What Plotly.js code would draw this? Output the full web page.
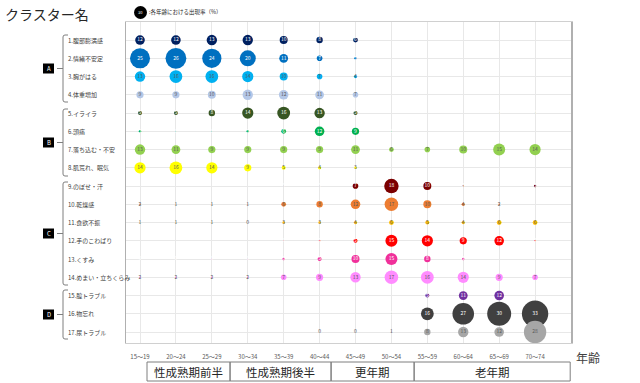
<!DOCTYPE html>
<html><head><meta charset="utf-8">
<script src="https://cdn.plot.ly/plotly-3.0.1.min.js"></script>
<style>html,body{margin:0;padding:0;background:#fff;}#chart{width:640px;height:383px;}</style>
</head><body><div id="chart"></div>
<script>
// ---- data ----
const ages = ["15～19","20～24","25～29","30～34","35～39","40～44","45～49","50～54","55～59","60～64","65～69","70～74"];
const symptoms = ["1.腹部膨満感","2.情緒不安定","3.胸がはる","4.体重増加","5.イライラ","6.頭痛","7.落ち込む・不安","8.肌荒れ、眠気","9.のぼせ・汗","10.乾燥感","11.食欲不振","12.手のこわばり","13.くすみ","14.めまい・立ちくらみ","15.腟トラブル","16.物忘れ","17.尿トラブル"];
const groups = ["A","B","C","D"];
const periods = ["性成熟期前半","性成熟期後半","更年期","老年期"];
const _ = null;
const v01 = [12,12,13,13,10,8,6,_,_,_,_,_];
const v02 = [25,26,24,20,11,7,3,_,_,_,_,_];
const v03 = [13,16,16,14,10,7,4,_,_,_,_,_];
const v04 = [9,9,10,13,12,11,7,_,_,_,_,_];
const v05 = [5,5,8,14,16,13,5,_,_,_,1,1];
const v06 = [3,1,1,3,6,12,9,1,_,_,_,_];
const v07 = [13,11,9,9,9,9,11,6,7,10,15,14];
const v08 = [14,16,14,9,5,4,3,_,_,_,_,_];
const v09 = [_,_,_,_,1,1,7,18,10,2,_,3];
const v10 = [2,1,1,1,6,8,12,17,10,4,2,_];
const v11 = [1,1,1,0,3,3,4,6,5,4,6,6];
const v12 = [_,_,_,_,1,2,5,15,14,9,12,2];
const v13 = [0,0,1,1,3,5,10,15,8,3,_,_];
const v14 = [2,2,2,2,7,9,13,17,16,14,9,7];
const v15 = [_,_,_,_,_,_,_,_,5,11,12,_];
const v16 = [_,_,_,_,_,_,_,1,16,27,30,33];
const v17 = [_,_,_,_,_,0,0,1,8,13,12,28];
const values = [v01,v02,v03,v04,v05,v06,v07,v08,v09,v10,v11,v12,v13,v14,v15,v16,v17];
const legendValue = 30;

// ---- styles ----
const colors = ["#002060","#0070c0","#00b0f0","#b4c7e7","#375623","#00b050","#92d050","#ffff00","#7b0000","#ed7d31","#ffc000","#ff0000","#f0309a","#ff8cff","#7030a0","#404040","#a6a6a6"];
const whiteText = [true,true,false,false,true,true,false,false,true,false,false,true,true,false,true,true,false];
const F = '"Noto Sans CJK JP", "Noto Sans", sans-serif';

const L = 126, R = 571, T = 22, B = 343;
const px = p => (p - L) / (R - L);
const py = p => (B - p) / (B - T);

const traces = values.map((vals, i) => ({
  type: 'scatter', mode: 'markers+text',
  x: ages.map((a, j) => j),
  y: vals.map(() => i + 1),
  marker: { size: vals.map(v => v === null ? 0 : v * 0.8), color: colors[i], line: { width: 0 }, opacity: 1 },
  text: vals.map(v => v === null ? '' : String(v)),
  textposition: 'middle center',
  textfont: { size: 5, family: F, color: whiteText[i] ? '#ffffff' : '#595959' },
  hoverinfo: 'skip', showlegend: false, cliponaxis: false
}));

const shapes = [];
const annotations = [];

// row labels
symptoms.forEach((s, i) => annotations.push({
  xref: 'paper', yref: 'y', x: px(66), y: i + 1, xanchor: 'left', yanchor: 'middle',
  text: s, showarrow: false, font: { size: 6, family: F, color: '#404040' }
}));

// group braces and boxes
const braceRanges = [[35,102],[109,176],[182,285],[290,339]];
braceRanges.forEach((r, g) => {
  const [t, b] = r, m = (t + b) / 2;
  const path = `M ${px(68)} ${py(t)} L ${px(65)} ${py(t)} Q ${px(63)} ${py(t)} ${px(63)} ${py(t+2)} ` +
    `L ${px(63)} ${py(b-2)} Q ${px(63)} ${py(b)} ${px(65)} ${py(b)} L ${px(68)} ${py(b)} ` +
    `M ${px(63)} ${py(m)} L ${px(57)} ${py(m)}`;
  shapes.push({ type: 'path', xref: 'paper', yref: 'paper', path, line: { color: '#7f7f7f', width: 1 } });
  shapes.push({ type: 'rect', xref: 'paper', yref: 'paper', x0: px(43), x1: px(54), y0: py(m-5), y1: py(m+5), fillcolor: '#000', line: { width: 0 } });
  annotations.push({ xref: 'paper', yref: 'paper', x: px(48.5), y: py(m), text: groups[g], showarrow: false,
    font: { size: 6, family: F, color: '#fff' }, xanchor: 'center', yanchor: 'middle' });
});

// period boxes
const edges = [147, 230, 331, 414, 570];
const toX = p => (p - 140) / 35.9;
periods.forEach((p, k) => {
  shapes.push({ type: 'rect', xref: 'x', yref: 'paper', x0: toX(edges[k]), x1: toX(edges[k+1]), y0: py(381), y1: py(362),
    line: { color: '#7f7f7f', width: 1 }, fillcolor: 'rgba(0,0,0,0)' });
  annotations.push({ xref: 'x', yref: 'paper', x: (toX(edges[k]) + toX(edges[k+1])) / 2, y: py(371.5), text: p,
    showarrow: false, font: { size: 11.5, family: F, color: '#262626' }, xanchor: 'center', yanchor: 'middle' });
});

// legend marker
shapes.push({ type: 'circle', xref: 'paper', yref: 'paper', x0: px(134), x1: px(147), y0: py(19), y1: py(6), fillcolor: '#000', line: { width: 0 } });
annotations.push({ xref: 'paper', yref: 'paper', x: px(140.5), y: py(12.5), text: String(legendValue), showarrow: false,
  font: { size: 4, family: F, color: '#fff' }, xanchor: 'center', yanchor: 'middle' });
annotations.push({ xref: 'paper', yref: 'paper', x: px(147), y: py(12.5), text: ':各年齢における出現率（%）', showarrow: false,
  font: { size: 5.5, family: F, color: '#262626' }, xanchor: 'left', yanchor: 'middle' });
// 年齢 label
annotations.push({ xref: 'paper', yref: 'paper', x: px(574), y: py(357), text: '年齢', showarrow: false,
  font: { size: 12, family: F, color: '#404040' }, xanchor: 'left', yanchor: 'middle' });

const layout = {
  width: 640, height: 383,
  margin: { l: L, r: 640 - R, t: T, b: 383 - B, pad: 0 },
  paper_bgcolor: '#fff', plot_bgcolor: '#fff',
  title: { text: 'クラスター名', x: 5 / 640, xanchor: 'left', y: 1 - 15 / 383, yanchor: 'middle',
    font: { size: 14, family: F, color: '#262626' } },
  xaxis: { range: [-0.39, 12.0], tickvals: ages.map((a, j) => j), ticktext: ages, showgrid: true, gridcolor: '#e8e8e8',
    zeroline: false, showline: true, mirror: true, linecolor: '#d0d0d0', linewidth: 1, ticks: 'outside', ticklen: 8,
    tickcolor: 'rgba(0,0,0,0)', tickfont: { size: 6, family: F, color: '#595959' }, fixedrange: true },
  yaxis: { range: [17.6, 0.01], tickvals: symptoms.map((s, i) => i + 1), showticklabels: false, showgrid: true,
    gridcolor: '#e8e8e8', zeroline: false, showline: true, mirror: true, linecolor: '#b0b0b0', linewidth: 1.5, ticks: '', fixedrange: true },
  shapes, annotations, font: { family: F }
};

Plotly.newPlot('chart', traces, layout, { displayModeBar: false, staticPlot: true });
</script></body></html>
